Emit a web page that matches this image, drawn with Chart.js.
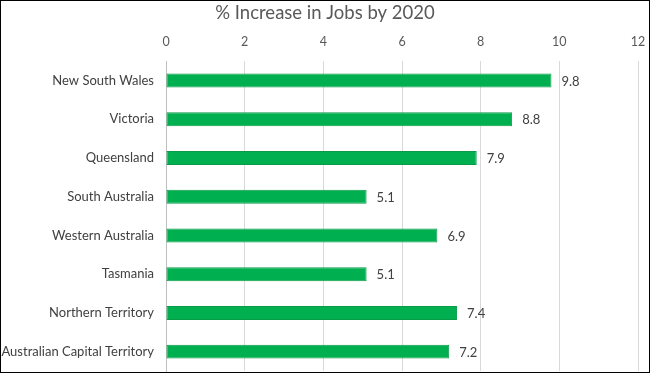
<!DOCTYPE html>
<html lang="en">
<head>
  <meta charset="UTF-8" />
  <title>% Increase in Jobs by 2020</title>
  <style>
    body { margin: 0; background: #fff; }
    #wrap { width: 650px; height: 373px; }
  </style>
</head>
<body>
  <div id="wrap"><canvas id="jobsChart" width="650" height="373"></canvas></div>

  <script src="https://cdn.jsdelivr.net/npm/chart.js"></script>
  <script>
    const states = ['New South Wales', 'Victoria', 'Queensland', 'South Australia',
      'Western Australia', 'Tasmania', 'Northern Territory', 'Australian Capital Territory'];
    const increases = [9.8, 8.8, 7.9, 5.1, 6.9, 5.1, 7.4, 7.2];
    const xTicks = [0, 2, 4, 6, 8, 10, 12];

    const FONT = 'Lato, "Open Sans", sans-serif';

    // value labels at the end of each bar + outer frame
    const extras = {
      id: 'extras',
      afterDatasetsDraw(chart) {
        const ctx = chart.ctx;
        const meta = chart.getDatasetMeta(0);
        ctx.save();
        ctx.font = '13px ' + FONT;
        ctx.fillStyle = '#404040';
        ctx.textBaseline = 'middle';
        meta.data.forEach((bar, i) => {
          ctx.fillText(increases[i].toFixed(1), bar.x + 10, bar.y + 1);
        });
        ctx.restore();
      },
      afterDraw(chart) {
        const ctx = chart.ctx;
        ctx.save();
        ctx.strokeStyle = '#000';
        ctx.lineWidth = 1;
        ctx.strokeRect(0.5, 0.5, chart.width - 1, chart.height - 1);
        ctx.restore();
      }
    };

    new Chart(document.getElementById('jobsChart'), {
      type: 'bar',
      data: {
        labels: states,
        datasets: [{
          data: increases,
          backgroundColor: '#00b050',
          borderColor: '#0b9a47',
          borderWidth: 1,
          borderSkipped: false,
          barPercentage: 0.9,
          categoryPercentage: 0.4
        }]
      },
      options: {
        indexAxis: 'y',
        responsive: false,
        animation: false,
        layout: { padding: { left: 0, right: 0, top: 0, bottom: 2 } },
        plugins: {
          legend: { display: false },
          tooltip: { enabled: false },
          title: {
            display: true,
            text: '% Increase in Jobs by 2020',
            color: '#595959',
            font: { family: FONT, size: 18.5, weight: 'normal' },
            padding: { top: 2, bottom: 4 }
          }
        },
        scales: {
          x: {
            position: 'top',
            min: 0,
            max: 12,
            afterBuildTicks: s => { s.ticks = xTicks.map(v => ({ value: v })); },
            afterFit: s => {
              s.height = 33;
              s.paddingLeft = 0; s.paddingRight = 12;
            },
            grid: { color: '#d9d9d9', drawTicks: false },
            border: { display: false },
            ticks: {
              color: '#595959',
              padding: 12,
              font: { family: FONT, size: 12.5 }
            }
          },
          y: {
            afterFit: s => {
              s.width = 166;
              s.paddingTop = 0; s.paddingBottom = 0;
            },
            grid: { display: false, tickLength: 12 },
            border: { display: true, color: '#bfbfbf' },
            ticks: {
              color: '#404040',
              padding: 0,
              font: { family: FONT, size: 13 }
            }
          }
        }
      },
      plugins: [extras]
    });
  </script>
</body>
</html>
